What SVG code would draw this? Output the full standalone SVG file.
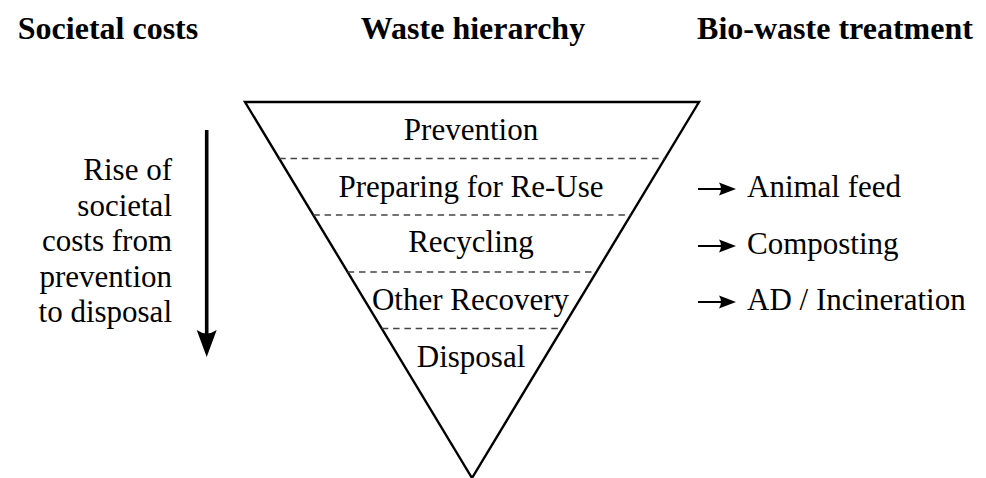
<svg xmlns="http://www.w3.org/2000/svg" width="986" height="478" viewBox="0 0 986 478">
  <style>
    .tri { fill: none; stroke: #000; stroke-width: 2.4; stroke-linejoin: miter; }
    .sep { stroke: #444; stroke-width: 1.4; stroke-dasharray: 6.5 4.8; fill: none; }
    .shaft { stroke: #000; fill: none; }
    .head { fill: #000; stroke: none; }
  </style>

  <g id="headers">
    <text id="h-societal" font-family="Liberation Serif" font-size="32" font-weight="bold" x="108" y="39" text-anchor="middle">Societal costs</text>
    <text id="h-waste" font-family="Liberation Serif" font-size="32" font-weight="bold" x="473" y="39" text-anchor="middle">Waste hierarchy</text>
    <text id="h-bio" font-family="Liberation Serif" font-size="32" font-weight="bold" x="835" y="39" text-anchor="middle">Bio-waste treatment</text>
  </g>

  <g id="pyramid">
    <polygon class="tri" points="245,102 699,102 472,478"/>
    <line class="sep" x1="279.2" y1="158.5" x2="664.8" y2="158.5"/>
    <line class="sep" x1="313.3" y1="215" x2="630.7" y2="215"/>
    <line class="sep" x1="347.7" y1="272" x2="596.3" y2="272"/>
    <line class="sep" x1="381.8" y1="328.5" x2="562.2" y2="328.5"/>
  </g>

  <g id="level-prevention">
    <text font-family="Liberation Serif" font-size="31" text-anchor="middle" x="471" y="140">Prevention</text>
  </g>
  <g id="level-reuse">
    <text font-family="Liberation Serif" font-size="31" text-anchor="middle" x="471" y="197">Preparing for Re-Use</text>
  </g>
  <g id="level-recycling">
    <text font-family="Liberation Serif" font-size="31" text-anchor="middle" x="471" y="252">Recycling</text>
  </g>
  <g id="level-recovery">
    <text font-family="Liberation Serif" font-size="31" text-anchor="middle" x="470.5" y="310">Other Recovery</text>
  </g>
  <g id="level-disposal">
    <text font-family="Liberation Serif" font-size="31" text-anchor="middle" x="471" y="367">Disposal</text>
  </g>

  <g id="costs-label">
    <text font-family="Liberation Serif" font-size="31" text-anchor="end" x="172" y="180">Rise of</text>
    <text font-family="Liberation Serif" font-size="31" text-anchor="end" x="172" y="215.5">societal</text>
    <text font-family="Liberation Serif" font-size="31" text-anchor="end" x="172" y="251">costs from</text>
    <text font-family="Liberation Serif" font-size="31" text-anchor="end" x="172" y="286.5">prevention</text>
    <text font-family="Liberation Serif" font-size="31" text-anchor="end" x="172" y="322">to disposal</text>
  </g>

  <g id="treat-animal">
    <text font-family="Liberation Serif" font-size="31" x="747" y="197">Animal feed</text>
  </g>
  <g id="treat-composting">
    <text font-family="Liberation Serif" font-size="31" x="747" y="254">Composting</text>
  </g>
  <g id="treat-ad">
    <text font-family="Liberation Serif" font-size="31" x="747" y="310">AD / Incineration</text>
  </g>

  <g id="connectors">
    <line class="shaft" x1="206.7" y1="130" x2="206.7" y2="340" stroke-width="3.6"/>
    <path class="head" d="M206.7,357 L196.7,330 Q206.7,337 216.7,330 Z"/>

    <line class="shaft" x1="698" y1="189" x2="724" y2="189" stroke-width="2"/>
    <path class="head" d="M736,189 L719,182.5 Q723,189 719,195.5 Z"/>
    <line class="shaft" x1="698" y1="246" x2="724" y2="246" stroke-width="2"/>
    <path class="head" d="M736,246 L719,239.5 Q723,246 719,252.5 Z"/>
    <line class="shaft" x1="698" y1="302" x2="724" y2="302" stroke-width="2"/>
    <path class="head" d="M736,302 L719,295.5 Q723,302 719,308.5 Z"/>
  </g>
</svg>
